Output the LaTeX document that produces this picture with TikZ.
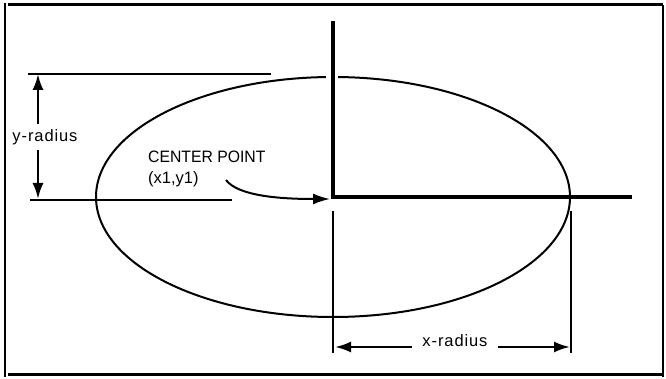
\documentclass[tikz,border=0pt]{standalone}
\usepackage{fontspec}
\setmainfont{Liberation Sans}
\usetikzlibrary{arrows.meta}
\tikzset{
  axis/.style={line width=3.6pt},
  dimline/.style={line width=2.4pt},
  frame/.style={line width=1.8pt},
  tip/.style={-{Latex[length=16pt,width=11pt]}},
  lbl/.style={inner sep=0pt,font=\fontsize{16.5}{18}\selectfont\addfontfeatures{LetterSpace=5.5}},
  clbl/.style={inner sep=0pt,anchor=west,font=\fontsize{16.5}{19}\selectfont},
}
\begin{document}
\begin{tikzpicture}[x=1pt,y=-1pt]
\useasboundingbox (0,0) rectangle (666,379);
% frame
\coordinate (f1) at (5,3);
\coordinate (f2) at (5,377);
\coordinate (f3) at (8,5);
\coordinate (f4) at (663,5);
\coordinate (f5) at (663,377);
\coordinate (f6) at (8,374.5);
\coordinate (f7) at (238,374.5);
\coordinate (f8) at (663,374.5);
\draw[frame,line width=2.2pt] (f1) -- (f2);
\draw[frame,line width=3pt] (f3) -- (f4);
\draw[frame,line width=1.6pt] (f4) -- (f5);
\draw[frame,line width=2.2pt] (f6) -- (f8);
\draw[frame,line width=3pt] (f6) -- (f7);
% ellipse
\coordinate (C) at (333,197);
\draw[line width=2pt] (C) ellipse [x radius=237, y radius=120];
\coordinate (g1) at (326,77);
\coordinate (g2) at (338,77);
\draw[white,line width=8pt] (g1) -- (g2);
% axes
\coordinate (vtop) at (333,21);
\coordinate (hend) at (632,197);
\draw[axis] (vtop) -- ([yshift=-1.8pt]C);
\draw[axis] ([xshift=-1.8pt]C) -- (hend);
% lower verticals
\coordinate (lv1) at (333,211);
\coordinate (lv2) at (333,353);
\coordinate (rv1) at (571,211);
\coordinate (rv2) at (571,353);
\draw[dimline] (lv1) -- (lv2);
\draw[dimline] (rv1) -- (rv2);
% y-radius extension lines
\coordinate (yt1) at (28,74);
\coordinate (yt2) at (271,74);
\coordinate (yb1) at (30,200);
\coordinate (yb2) at (232,200);
\draw[dimline] (yt1) -- (yt2);
\draw[dimline] (yb1) -- (yb2);
% y-radius
\node[lbl] (yr) at (45,137) {y-radius};
\coordinate (ya) at (38,74);
\coordinate (yb) at (38,199);
\draw[dimline,tip] (ya |- yr.north) ++(0,-5) -- (ya);
\draw[dimline,tip] (yb |- yr.south) ++(0,5) -- (yb);
% x-radius
\node[lbl] (xr) at (455,341) {x-radius};
\coordinate (xa) at (335,347);
\coordinate (xb) at (570,347);
\draw[dimline,tip] ([xshift=-10pt]xr.west |- xa) -- (xa);
\draw[dimline,tip] ([xshift=10pt]xr.east |- xb) -- (xb);
% center point label
\node[clbl] (cp) at (148,157) {\scalebox{0.955}[1]{CENTER POINT}};
\node[clbl] (xy) at (148,179) {(x1,y1)};
\coordinate (cs) at (226,180);
\coordinate (ce) at (330,199);
\draw[line width=2pt,-{Latex[length=17pt,width=11pt]}] (cs) .. controls (238,196) and (280,199) .. (ce);
\end{tikzpicture}
\end{document}
